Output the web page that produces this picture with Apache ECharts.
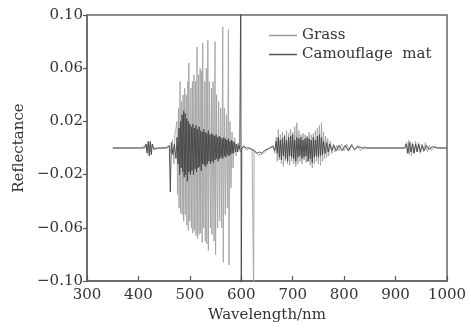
<!DOCTYPE html>
<html>
<head>
<meta charset="utf-8">
<script src="https://cdn.jsdelivr.net/npm/echarts@6/dist/echarts.min.js"></script>
<style>
  html, body { margin: 0; padding: 0; background: #fff; }
  #chart { width: 471px; height: 332px; }
</style>
</head>
<body>
<div id="chart"></div>
<script>
// x ticks and y ticks
const xTicks = [300, 400, 500, 600, 700, 800, 900, 1000];
const yTicks = [-0.10, -0.06, -0.02, 0.02, 0.06, 0.10];

// Grass difference spectrum (wavelength nm, reflectance)
const grassWl = [
  350, 370, 390, 405, 414, 417, 420, 423, 426, 430, 450, 460, 464, 466, 469, 471,
  475, 476, 478, 479, 481, 482, 484, 485, 487, 488, 490, 491, 493, 494, 496, 497,
  498, 500, 502, 503, 505, 506, 508, 509, 511, 512, 514, 515, 517, 518, 520, 521,
  523, 524, 525, 527, 529, 530, 532, 533, 535, 536, 538, 540, 542, 543, 545, 547,
  549, 550, 552, 554, 556, 558, 560, 562, 564, 565, 567, 569, 571, 573, 575, 576,
  578, 580, 582, 584, 587, 590, 594, 598, 604, 610, 616, 621, 623, 624, 625, 628,
  633, 638, 643, 648, 655, 662, 665, 668, 670, 672, 674, 676, 678, 680, 682, 684,
  686, 688, 690, 692, 694, 696, 698, 700, 702, 704, 706, 708, 710, 712, 714, 716,
  718, 720, 722, 724, 726, 728, 730, 732, 734, 736, 738, 740, 742, 744, 746, 748,
  750, 752, 754, 756, 758, 760, 762, 764, 766, 768, 770, 773, 776, 779, 782, 786,
  790, 795, 800, 805, 810, 815, 820, 826, 832, 838, 845, 900, 918, 921, 923, 925,
  927, 929, 931, 933, 936, 939, 942, 945, 948, 951, 954, 958, 962, 966, 970, 975,
  985, 1000
];
const grassRef = [
  0, 0, 0, 0, 0.002, -0.002, 0.003, -0.003, 0.002, 0, 0, 0.001, -0.004, 0.006, -0.012, 0.010,
  0.020, -0.035, 0.030, -0.045, 0.050, -0.049, 0.035, -0.050, 0.040, -0.055, 0.045, -0.050, 0.040, -0.058, 0.050, -0.062,
  0.064, -0.055, 0.045, -0.060, 0.050, -0.064, 0.055, -0.062, 0.050, -0.066, 0.076, -0.068, 0.055, -0.065, 0.060, -0.064,
  0.058, -0.071, 0.079, -0.060, 0.050, -0.070, 0.060, -0.072, 0.081, -0.077, 0.050, -0.060, 0.045, -0.065, 0.050, -0.070,
  0.080, -0.080, 0.040, -0.060, 0.035, -0.055, 0.030, -0.060, 0.091, -0.086, 0.030, -0.050, 0.025, -0.045, 0.089, -0.088,
  0.020, -0.030, 0.012, -0.015, 0.008, -0.006, 0.004, -0.003, 0.002, -0.002, 0, -0.001, 0, -0.110, -0.001, -0.003,
  -0.005, -0.005, -0.004, -0.002, 0, 0.002, -0.004, 0.008, -0.010, 0.014, -0.009, 0.010, -0.012, 0.012, -0.014, 0.010,
  -0.010, 0.013, -0.012, 0.011, -0.013, 0.014, -0.010, 0.012, -0.012, 0.016, -0.014, 0.019, -0.012, 0.013, -0.010, 0.010,
  -0.012, 0.011, -0.009, 0.010, -0.011, 0.009, -0.010, 0.012, -0.013, 0.010, -0.015, 0.011, -0.012, 0.013, -0.010, 0.015,
  -0.012, 0.017, -0.013, 0.019, -0.010, 0.012, -0.008, 0.009, -0.007, 0.007, -0.006, 0.005, -0.004, 0.003, -0.003, 0.002,
  -0.002, 0.003, -0.002, 0.003, -0.002, 0.003, -0.002, 0.002, -0.002, 0.001, 0, 0, 0, 0.004, -0.004, 0.006,
  -0.005, 0.005, -0.006, 0.004, -0.004, 0.005, -0.003, 0.004, -0.004, 0.003, -0.003, 0.004, -0.003, 0.002, -0.002, 0.001,
  0, 0
];

// Camouflage mat difference spectrum
const matWl = [
  350, 380, 400, 412, 415, 417, 419, 421, 423, 425, 427, 430, 440, 455, 460, 462,
  464, 467, 470, 473, 475, 477, 479, 480, 482, 483, 485, 486, 488, 489, 491, 492,
  494, 495, 497, 498, 500, 501, 503, 504, 506, 507, 509, 510, 512, 513, 515, 516,
  518, 519, 521, 522, 524, 525, 527, 528, 530, 531, 533, 534, 536, 537, 539, 540,
  542, 543, 545, 546, 548, 549, 551, 552, 554, 555, 557, 558, 560, 561, 563, 564,
  566, 567, 569, 570, 572, 573, 575, 576, 578, 579, 581, 582, 584, 585, 587, 589,
  591, 593, 595, 597, 599, 600, 601, 605, 610, 615, 620, 625, 630, 635, 640, 645,
  650, 655, 662, 665, 668, 670, 672, 674, 676, 678, 680, 682, 684, 686, 688, 690,
  692, 694, 696, 698, 700, 702, 704, 706, 708, 710, 712, 714, 716, 718, 720, 722,
  724, 726, 728, 730, 732, 734, 736, 738, 740, 742, 744, 746, 748, 750, 752, 754,
  756, 758, 760, 763, 766, 769, 772, 776, 780, 785, 790, 796, 802, 808, 814, 820,
  828, 836, 850, 918, 921, 924, 927, 930, 933, 936, 939, 942, 945, 948, 952, 956,
  960, 965, 972, 980, 1000
];
const matRef = [
  0, 0, 0, 0, 0.003, -0.004, 0.005, -0.006, 0.005, -0.005, 0.003, -0.001, 0, 0, 0.002, -0.033,
  0.004, -0.005, 0.003, -0.008, 0.008, -0.012, 0.015, -0.020, 0.020, -0.015, 0.025, -0.018, 0.028, -0.022, 0.026, -0.020,
  0.022, -0.025, 0.020, -0.018, 0.018, -0.020, 0.016, -0.017, 0.018, -0.020, 0.015, -0.016, 0.017, -0.018, 0.014, -0.015,
  0.016, -0.014, 0.013, -0.017, 0.012, -0.012, 0.014, -0.013, 0.012, -0.014, 0.011, -0.012, 0.013, -0.010, 0.010, -0.012,
  0.011, -0.010, 0.010, -0.011, 0.009, -0.009, 0.010, -0.008, 0.008, -0.010, 0.009, -0.008, 0.008, -0.007, 0.007, -0.008,
  0.008, -0.006, 0.007, -0.007, 0.006, -0.005, 0.007, -0.006, 0.005, -0.005, 0.006, -0.004, 0.005, -0.004, 0.004, -0.003,
  0.003, -0.003, 0.002, -0.001, 0.120, -0.120, 0, 0.001, 0, 0, -0.001, -0.002, -0.004, -0.003, -0.004, -0.002,
  -0.001, 0, 0.001, -0.002, 0.005, -0.004, 0.008, -0.007, 0.006, -0.009, 0.007, -0.006, 0.009, -0.008, 0.006, -0.010,
  0.008, -0.006, 0.009, -0.007, 0.010, -0.008, 0.006, -0.010, 0.008, -0.007, 0.007, -0.006, 0.008, -0.008, 0.006, -0.007,
  0.007, -0.006, 0.008, -0.010, 0.007, -0.008, 0.006, -0.011, 0.008, -0.007, 0.006, -0.006, 0.009, -0.007, 0.010, -0.006,
  0.008, -0.005, 0.005, -0.004, 0.004, -0.003, 0.003, -0.002, 0.002, -0.002, 0.002, -0.002, 0.002, -0.002, 0.002, -0.001,
  0.001, 0, 0, 0, 0.003, -0.004, 0.004, -0.003, 0.003, -0.004, 0.003, -0.003, 0.003, -0.003, 0.002, -0.002,
  0.002, -0.001, 0.001, 0, 0
];

const FONT = '"DejaVu Serif", "Liberation Serif", serif';
const fmtY = v => {
  const s = Math.abs(v).toFixed(2);
  return v < -1e-9 ? '\u2212' + s : s;
};

const chart = echarts.init(document.getElementById('chart'), null, { renderer: 'canvas' });

chart.setOption({
  animation: false,
  backgroundColor: '#fff',
  grid: {
    left: 87, right: 24, top: 15, bottom: 51,
    show: true, borderColor: '#666', borderWidth: 1.5, backgroundColor: 'transparent'
  },
  legend: {
    orient: 'vertical',
    left: 264, top: 23,
    itemWidth: 28, itemHeight: 1.5, itemGap: 4,
    icon: 'rect',
    textStyle: { fontFamily: FONT, fontSize: 15, color: '#333' },
    data: ['Grass', 'Camouflage  mat']
  },
  xAxis: {
    type: 'value',
    min: xTicks[0], max: xTicks[xTicks.length - 1], interval: 100,
    name: 'Wavelength/nm', nameLocation: 'middle', nameGap: 26,
    nameTextStyle: { fontFamily: FONT, fontSize: 15, color: '#333' },
    axisLine: { onZero: false, lineStyle: { color: '#666', width: 1.5 } },
    axisTick: { show: true, inside: true, length: 5, lineStyle: { color: '#555', width: 1.2 } },
    axisLabel: { fontFamily: FONT, fontSize: 15, color: '#333', margin: 7, formatter: v => String(v) },
    splitLine: { show: false }
  },
  yAxis: {
    type: 'value',
    min: yTicks[0], max: yTicks[yTicks.length - 1], interval: 0.04,
    name: 'Reflectance', nameLocation: 'middle', nameGap: 56,
    nameTextStyle: { fontFamily: FONT, fontSize: 15, color: '#333' },
    axisLine: { onZero: false, lineStyle: { color: '#666', width: 1.5 } },
    axisTick: { show: true, inside: false, length: 4, lineStyle: { color: '#555', width: 1.2 } },
    axisLabel: { fontFamily: FONT, fontSize: 15, color: '#333', margin: 4, formatter: fmtY },
    splitLine: { show: false }
  },
  series: [
    {
      name: 'Grass',
      type: 'line',
      symbol: 'none',
      data: grassWl.map((w, i) => [w, grassRef[i]]),
      lineStyle: { color: '#a3a3a3', width: 0.9 },
      itemStyle: { color: '#9a9a9a' }
    },
    {
      name: 'Camouflage  mat',
      type: 'line',
      symbol: 'none',
      data: matWl.map((w, i) => [w, matRef[i]]),
      lineStyle: { color: '#444', width: 0.9 },
      itemStyle: { color: '#555' }
    }
  ]
});
</script>
</body>
</html>
